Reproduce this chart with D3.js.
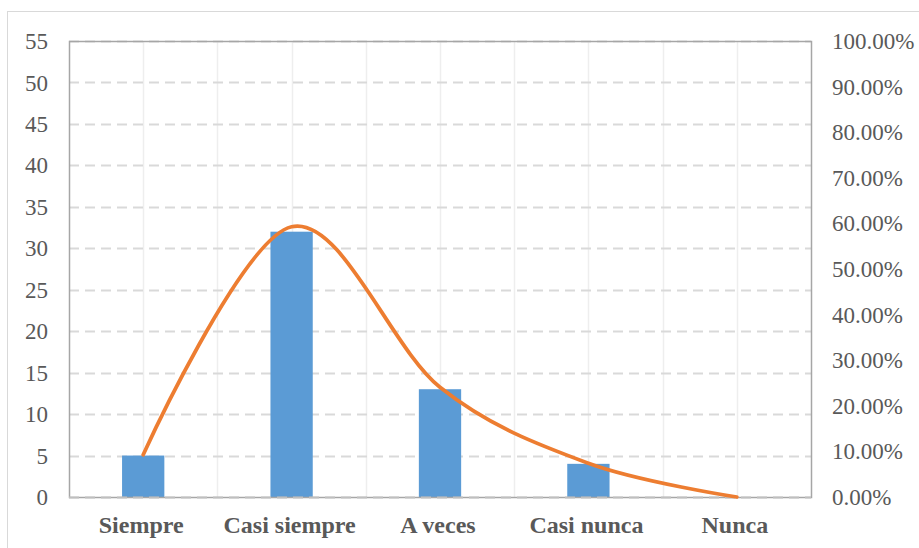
<!DOCTYPE html>
<html>
<head>
<meta charset="utf-8">
<script src="https://cdn.jsdelivr.net/npm/d3@7"></script>
<style>
  html, body { margin: 0; padding: 0; background: #fff; }
  svg { display: block; }
  .lbl { font-family: "Liberation Serif", "Times New Roman", Times, serif; fill: #595959; }
</style>
</head>
<body>
<svg id="chart" width="919" height="548"></svg>
<script>
// Frequencies per answer option, and the share of each in the total
const categories = ["Siempre", "Casi siempre", "A veces", "Casi nunca", "Nunca"];
const counts = [5, 32, 13, 4, 0];
const percents = [0.0926, 0.5926, 0.2407, 0.0741, 0];
const leftTicks = [0, 5, 10, 15, 20, 25, 30, 35, 40, 45, 50, 55];
const rightTicks = [0, 0.1, 0.2, 0.3, 0.4, 0.5, 0.6, 0.7, 0.8, 0.9, 1.0];

const svg = d3.select("#chart");
const W = 919, H = 548;
const m = { left: 69, right: 108, top: 41, bottom: 51 };
const x0 = m.left, x1 = W - m.right, y0 = H - m.bottom, y1 = m.top;

const gridColor = "#d9d9d9";

// Chart area frame
svg.append("rect")
  .attr("x", 7.5).attr("y", 11.5)
  .attr("width", W).attr("height", H)
  .attr("fill", "#fff").attr("stroke", gridColor).attr("stroke-width", 1);

const x = d3.scaleBand().domain(categories).range([x0, x1]).paddingInner(0).paddingOuter(0);
const yL = d3.scaleLinear().domain([0, 55]).range([y0, y1]);
const yR = d3.scaleLinear().domain([0, 1]).range([y0, y1]);

// Vertical gridlines at category centres and boundaries
const vLines = [];
categories.forEach((c, i) => {
  if (i > 0) vLines.push(x(c));
  vLines.push(x(c) + x.bandwidth() / 2);
});
svg.append("g").selectAll("line").data(vLines).join("line")
  .attr("x1", d => Math.round(d) + 0.5).attr("x2", d => Math.round(d) + 0.5)
  .attr("y1", y1).attr("y2", y0)
  .attr("stroke", "#eeeeee").attr("stroke-width", 1.5);

// Horizontal dashed gridlines
svg.append("g").selectAll("line").data(leftTicks.filter(t => t > 0)).join("line")
  .attr("x1", x0).attr("x2", x1)
  .attr("y1", d => Math.round(yL(d)) + 0.5).attr("y2", d => Math.round(yL(d)) + 0.5)
  .attr("stroke", gridColor).attr("stroke-width", 2)
  .attr("stroke-dasharray", "10,6");

// Bars
const barW = x.bandwidth() * 0.285;
svg.append("g").selectAll("rect").data(categories).join("rect")
  .attr("x", (d) => x(d) + x.bandwidth() / 2 - barW / 2)
  .attr("width", barW)
  .attr("y", (d, i) => yL(counts[i]))
  .attr("height", (d, i) => y0 - yL(counts[i]))
  .attr("fill", "#5b9bd5");

// Plot frame
svg.append("rect")
  .attr("x", x0 + 0.5).attr("y", y1 + 0.5)
  .attr("width", x1 - x0).attr("height", y0 - y1)
  .attr("fill", "none").attr("stroke", "#a6a6a6").attr("stroke-width", 1.5);

// Dashed baseline over the axis
svg.append("line")
  .attr("x1", x0).attr("x2", x1).attr("y1", y0 + 0.5).attr("y2", y0 + 0.5)
  .attr("stroke", "#bfbfbf").attr("stroke-width", 2).attr("stroke-dasharray", "10,6");

// Smoothed percentage line
const line = d3.line()
  .x((d, i) => x(categories[i]) + x.bandwidth() / 2)
  .y(d => yR(d))
  .curve(d3.curveCardinal.tension(0));
svg.append("path")
  .datum(percents)
  .attr("d", line)
  .attr("fill", "none")
  .attr("stroke", "#ed7d31")
  .attr("stroke-width", 3.75)
  .attr("stroke-linecap", "round");

// Left axis labels
svg.append("g").selectAll("text").data(leftTicks).join("text")
  .attr("class", "lbl")
  .attr("x", 48).attr("y", d => yL(d))
  .attr("dy", "0.35em")
  .attr("text-anchor", "end")
  .style("font-size", "23px")
  .text(d => d);

// Right axis labels
const pctFmt = d => (d * 100).toFixed(2) + "%";
svg.append("g").selectAll("text").data(rightTicks).join("text")
  .attr("class", "lbl")
  .attr("x", 832).attr("y", d => yR(d))
  .attr("dy", "0.35em")
  .attr("text-anchor", "start")
  .style("font-size", "23px")
  .text(pctFmt);

// Category labels
svg.append("g").selectAll("text").data(categories).join("text")
  .attr("class", "lbl")
  .attr("x", d => x(d) + x.bandwidth() / 2 - 2)
  .attr("y", 533)
  .attr("text-anchor", "middle")
  .style("font-size", "24px").style("font-weight", "bold")
  .text(d => d);
</script>
</body>
</html>
